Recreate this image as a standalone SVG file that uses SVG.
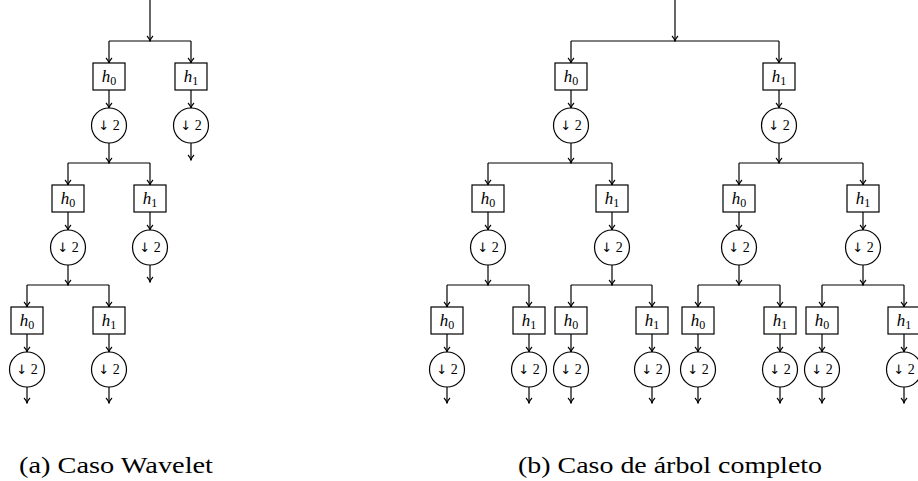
<svg xmlns="http://www.w3.org/2000/svg" width="918" height="481" viewBox="0 0 918 481">
<style>
.box{fill:#fff;stroke:#000;stroke-width:1.2}
.circ{fill:#fff;stroke:#000;stroke-width:1.2}
.w{fill:none;stroke:#000;stroke-width:1.2}
.a{fill:none;stroke:#000;stroke-width:1.2;marker-end:url(#tip)}
.lbl{font-family:"Liberation Serif","DejaVu Serif",serif;font-size:17px;text-anchor:middle;fill:#000}
.it{font-style:italic}
.sub{font-size:12px}
.dn{font-family:"Liberation Serif","DejaVu Serif",serif;font-size:14px;text-anchor:middle;fill:#000}
.ar{font-family:"DejaVu Sans",sans-serif;font-size:13px;fill:#000}
.cap{font-family:"Liberation Serif","DejaVu Serif",serif;font-size:23px;fill:#000}
</style>
<defs>
<marker id="tip" markerUnits="userSpaceOnUse" viewBox="-7 -4 8 8" refX="0" refY="0" markerWidth="8" markerHeight="8" orient="auto">
<path d="M-5,-3 C-3,-1 -1,-0.3 0,0 C-1,0.3 -3,1 -5,3" fill="none" stroke="#000" stroke-width="1.1"/>
</marker>
</defs>
<g id="connectors">
<path class="a" d="M150,0 V41"/>
<path class="w" d="M109,41 H191"/>
<path class="a" d="M109,41 V63"/><path class="a" d="M191,41 V63"/>
<path class="a" d="M109,90 V108"/><path class="a" d="M191,90 V108"/>
<path class="a" d="M109,143 V163"/><path class="a" d="M191,143 V160"/>
<path class="w" d="M68,163 H150"/>
<path class="a" d="M68,163 V185"/><path class="a" d="M150,163 V185"/>
<path class="a" d="M68,212 V230"/><path class="a" d="M150,212 V230"/>
<path class="a" d="M68,265 V285"/><path class="a" d="M150,265 V282"/>
<path class="w" d="M27,285 H109"/>
<path class="a" d="M27,285 V307"/><path class="a" d="M109,285 V307"/>
<path class="a" d="M27,334 V352"/><path class="a" d="M109,334 V352"/>
<path class="a" d="M27,387 V403"/><path class="a" d="M109,387 V403"/>
<path class="a" d="M675,0 V41"/>
<path class="w" d="M571,41 H779"/>
<path class="a" d="M571,41 V63"/><path class="a" d="M779,41 V63"/>
<path class="a" d="M571,90 V108"/><path class="a" d="M779,90 V108"/>
<path class="a" d="M571,143 V163"/><path class="a" d="M779,143 V163"/>
<path class="w" d="M488,163 H612"/><path class="w" d="M739,163 H863"/>
<path class="a" d="M488,163 V185"/><path class="a" d="M612,163 V185"/><path class="a" d="M739,163 V185"/><path class="a" d="M863,163 V185"/>
<path class="a" d="M488,212 V230"/><path class="a" d="M612,212 V230"/><path class="a" d="M739,212 V230"/><path class="a" d="M863,212 V230"/>
<path class="a" d="M488,265 V285"/><path class="a" d="M612,265 V285"/><path class="a" d="M739,265 V285"/><path class="a" d="M863,265 V285"/>
<path class="w" d="M447,285 H529"/><path class="w" d="M571,285 H652"/><path class="w" d="M698,285 H780"/><path class="w" d="M822,285 H904"/>
<path class="a" d="M447,285 V307"/><path class="a" d="M529,285 V307"/><path class="a" d="M571,285 V307"/><path class="a" d="M652,285 V307"/>
<path class="a" d="M698,285 V307"/><path class="a" d="M780,285 V307"/><path class="a" d="M822,285 V307"/><path class="a" d="M904,285 V307"/>
<path class="a" d="M447,334 V352"/><path class="a" d="M529,334 V352"/><path class="a" d="M571,334 V352"/><path class="a" d="M652,334 V352"/>
<path class="a" d="M698,334 V352"/><path class="a" d="M780,334 V352"/><path class="a" d="M822,334 V352"/><path class="a" d="M904,334 V352"/>
<path class="a" d="M447,387 V403"/><path class="a" d="M529,387 V403"/><path class="a" d="M571,387 V403"/><path class="a" d="M652,387 V403"/>
<path class="a" d="M698,387 V403"/><path class="a" d="M780,387 V403"/><path class="a" d="M822,387 V403"/><path class="a" d="M904,387 V403"/>
</g>
<g id="a_h0_1"><rect class="box" x="93" y="63" width="32" height="27"/><text class="lbl" x="109" y="82"><tspan class="it">h</tspan><tspan class="sub" dy="3">0</tspan></text></g>
<g id="a_d0_1"><circle class="circ" cx="109" cy="125.5" r="17.5"/><text class="dn" x="109" y="130"><tspan class="ar">&#x2193;&#xFE0E;</tspan> 2</text></g>
<g id="a_h1_1"><rect class="box" x="175" y="63" width="32" height="27"/><text class="lbl" x="191" y="82"><tspan class="it">h</tspan><tspan class="sub" dy="3">1</tspan></text></g>
<g id="a_d1_1"><circle class="circ" cx="191" cy="125.5" r="17.5"/><text class="dn" x="191" y="130"><tspan class="ar">&#x2193;&#xFE0E;</tspan> 2</text></g>
<g id="a_h0_2"><rect class="box" x="52" y="185" width="32" height="27"/><text class="lbl" x="68" y="204"><tspan class="it">h</tspan><tspan class="sub" dy="3">0</tspan></text></g>
<g id="a_d0_2"><circle class="circ" cx="68" cy="247.5" r="17.5"/><text class="dn" x="68" y="252"><tspan class="ar">&#x2193;&#xFE0E;</tspan> 2</text></g>
<g id="a_h1_2"><rect class="box" x="134" y="185" width="32" height="27"/><text class="lbl" x="150" y="204"><tspan class="it">h</tspan><tspan class="sub" dy="3">1</tspan></text></g>
<g id="a_d1_2"><circle class="circ" cx="150" cy="247.5" r="17.5"/><text class="dn" x="150" y="252"><tspan class="ar">&#x2193;&#xFE0E;</tspan> 2</text></g>
<g id="a_h0_3"><rect class="box" x="11" y="307" width="32" height="27"/><text class="lbl" x="27" y="326"><tspan class="it">h</tspan><tspan class="sub" dy="3">0</tspan></text></g>
<g id="a_d0_3"><circle class="circ" cx="27" cy="369.5" r="17.5"/><text class="dn" x="27" y="374"><tspan class="ar">&#x2193;&#xFE0E;</tspan> 2</text></g>
<g id="a_h1_3"><rect class="box" x="93" y="307" width="32" height="27"/><text class="lbl" x="109" y="326"><tspan class="it">h</tspan><tspan class="sub" dy="3">1</tspan></text></g>
<g id="a_d1_3"><circle class="circ" cx="109" cy="369.5" r="17.5"/><text class="dn" x="109" y="374"><tspan class="ar">&#x2193;&#xFE0E;</tspan> 2</text></g>
<g id="b_h0_1"><rect class="box" x="555" y="63" width="32" height="27"/><text class="lbl" x="571" y="82"><tspan class="it">h</tspan><tspan class="sub" dy="3">0</tspan></text></g>
<g id="b_d0_1"><circle class="circ" cx="571" cy="125.5" r="17.5"/><text class="dn" x="571" y="130"><tspan class="ar">&#x2193;&#xFE0E;</tspan> 2</text></g>
<g id="b_h1_1"><rect class="box" x="763" y="63" width="32" height="27"/><text class="lbl" x="779" y="82"><tspan class="it">h</tspan><tspan class="sub" dy="3">1</tspan></text></g>
<g id="b_d1_1"><circle class="circ" cx="779" cy="125.5" r="17.5"/><text class="dn" x="779" y="130"><tspan class="ar">&#x2193;&#xFE0E;</tspan> 2</text></g>
<g id="b_h0_2a"><rect class="box" x="472" y="185" width="32" height="27"/><text class="lbl" x="488" y="204"><tspan class="it">h</tspan><tspan class="sub" dy="3">0</tspan></text></g>
<g id="b_d0_2a"><circle class="circ" cx="488" cy="247.5" r="17.5"/><text class="dn" x="488" y="252"><tspan class="ar">&#x2193;&#xFE0E;</tspan> 2</text></g>
<g id="b_h1_2a"><rect class="box" x="596" y="185" width="32" height="27"/><text class="lbl" x="612" y="204"><tspan class="it">h</tspan><tspan class="sub" dy="3">1</tspan></text></g>
<g id="b_d1_2a"><circle class="circ" cx="612" cy="247.5" r="17.5"/><text class="dn" x="612" y="252"><tspan class="ar">&#x2193;&#xFE0E;</tspan> 2</text></g>
<g id="b_h0_2b"><rect class="box" x="723" y="185" width="32" height="27"/><text class="lbl" x="739" y="204"><tspan class="it">h</tspan><tspan class="sub" dy="3">0</tspan></text></g>
<g id="b_d0_2b"><circle class="circ" cx="739" cy="247.5" r="17.5"/><text class="dn" x="739" y="252"><tspan class="ar">&#x2193;&#xFE0E;</tspan> 2</text></g>
<g id="b_h1_2b"><rect class="box" x="847" y="185" width="32" height="27"/><text class="lbl" x="863" y="204"><tspan class="it">h</tspan><tspan class="sub" dy="3">1</tspan></text></g>
<g id="b_d1_2b"><circle class="circ" cx="863" cy="247.5" r="17.5"/><text class="dn" x="863" y="252"><tspan class="ar">&#x2193;&#xFE0E;</tspan> 2</text></g>
<g id="b_h0_3a"><rect class="box" x="431" y="307" width="32" height="27"/><text class="lbl" x="447" y="326"><tspan class="it">h</tspan><tspan class="sub" dy="3">0</tspan></text></g>
<g id="b_d0_3a"><circle class="circ" cx="447" cy="369.5" r="17.5"/><text class="dn" x="447" y="374"><tspan class="ar">&#x2193;&#xFE0E;</tspan> 2</text></g>
<g id="b_h1_3a"><rect class="box" x="513" y="307" width="32" height="27"/><text class="lbl" x="529" y="326"><tspan class="it">h</tspan><tspan class="sub" dy="3">1</tspan></text></g>
<g id="b_d1_3a"><circle class="circ" cx="529" cy="369.5" r="17.5"/><text class="dn" x="529" y="374"><tspan class="ar">&#x2193;&#xFE0E;</tspan> 2</text></g>
<g id="b_h0_3b"><rect class="box" x="555" y="307" width="32" height="27"/><text class="lbl" x="571" y="326"><tspan class="it">h</tspan><tspan class="sub" dy="3">0</tspan></text></g>
<g id="b_d0_3b"><circle class="circ" cx="571" cy="369.5" r="17.5"/><text class="dn" x="571" y="374"><tspan class="ar">&#x2193;&#xFE0E;</tspan> 2</text></g>
<g id="b_h1_3b"><rect class="box" x="636" y="307" width="32" height="27"/><text class="lbl" x="652" y="326"><tspan class="it">h</tspan><tspan class="sub" dy="3">1</tspan></text></g>
<g id="b_d1_3b"><circle class="circ" cx="652" cy="369.5" r="17.5"/><text class="dn" x="652" y="374"><tspan class="ar">&#x2193;&#xFE0E;</tspan> 2</text></g>
<g id="b_h0_3c"><rect class="box" x="682" y="307" width="32" height="27"/><text class="lbl" x="698" y="326"><tspan class="it">h</tspan><tspan class="sub" dy="3">0</tspan></text></g>
<g id="b_d0_3c"><circle class="circ" cx="698" cy="369.5" r="17.5"/><text class="dn" x="698" y="374"><tspan class="ar">&#x2193;&#xFE0E;</tspan> 2</text></g>
<g id="b_h1_3c"><rect class="box" x="764" y="307" width="32" height="27"/><text class="lbl" x="780" y="326"><tspan class="it">h</tspan><tspan class="sub" dy="3">1</tspan></text></g>
<g id="b_d1_3c"><circle class="circ" cx="780" cy="369.5" r="17.5"/><text class="dn" x="780" y="374"><tspan class="ar">&#x2193;&#xFE0E;</tspan> 2</text></g>
<g id="b_h0_3d"><rect class="box" x="806" y="307" width="32" height="27"/><text class="lbl" x="822" y="326"><tspan class="it">h</tspan><tspan class="sub" dy="3">0</tspan></text></g>
<g id="b_d0_3d"><circle class="circ" cx="822" cy="369.5" r="17.5"/><text class="dn" x="822" y="374"><tspan class="ar">&#x2193;&#xFE0E;</tspan> 2</text></g>
<g id="b_h1_3d"><rect class="box" x="888" y="307" width="32" height="27"/><text class="lbl" x="904" y="326"><tspan class="it">h</tspan><tspan class="sub" dy="3">1</tspan></text></g>
<g id="b_d1_3d"><circle class="circ" cx="904" cy="369.5" r="17.5"/><text class="dn" x="904" y="374"><tspan class="ar">&#x2193;&#xFE0E;</tspan> 2</text></g>
<text class="cap" x="19" y="473" textLength="194" lengthAdjust="spacingAndGlyphs">(a) Caso Wavelet</text>
<text class="cap" x="518" y="473" textLength="304" lengthAdjust="spacingAndGlyphs">(b) Caso de árbol completo</text>
</svg>
